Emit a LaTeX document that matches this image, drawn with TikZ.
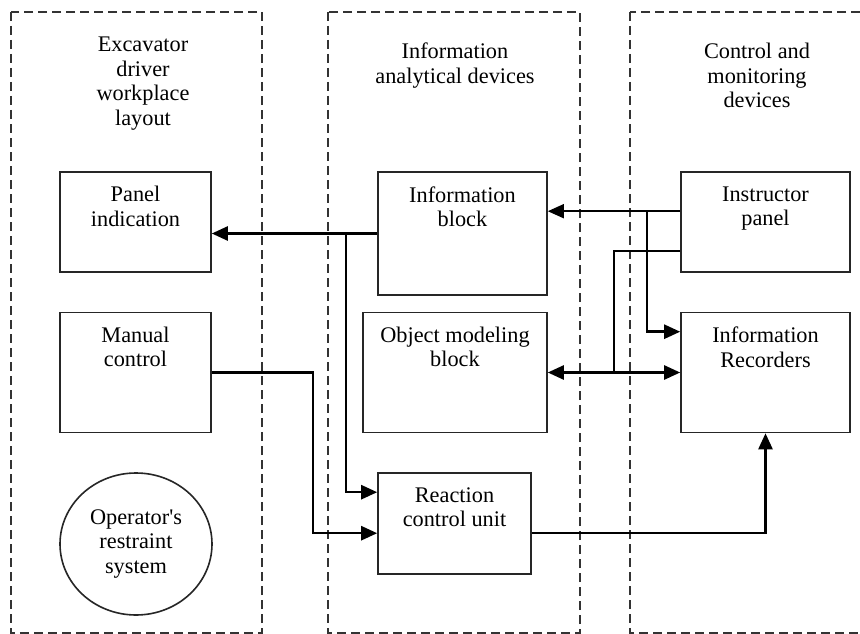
\documentclass[tikz,border=0pt]{standalone}
\usepackage{fontspec}
\setmainfont{Liberation Serif}
\usetikzlibrary{arrows.meta,shapes.geometric,calc}

\begin{document}
\begin{tikzpicture}[x=1pt,y=-1pt,
  group/.style={draw=black!80,line width=2pt,dash pattern=on 9pt off 5pt},
  blockbox/.style={draw=black!85,line width=1.6pt,rectangle,inner sep=0pt},
  caption/.style={font=\fontsize{22.3}{24.5}\selectfont,align=center,inner sep=0pt,anchor=north},
  conn/.style={line width=2.5pt,draw=black},
  thinconn/.style={line width=1.6pt,draw=black},
  tip/.style={-{Triangle[length=16pt,width=14pt]}},
  bitip/.style={{Triangle[length=16pt,width=14pt]}-{Triangle[length=16pt,width=14pt]}}]
\useasboundingbox (0,0) rectangle (860,634);
\clip (0,0) rectangle (860,634);
\fill[white] (0,0) rectangle (860,634);

% group frames
\draw[group] (11,12) rectangle (262,633);
\draw[group] (328,12) rectangle (580,633);
\draw[group] (630,12) rectangle (880,633);

% group titles
\node[caption] (t1) at (143,37) {Excavator\\driver\\workplace\\layout};
\node[caption] (t2) at (455,43) {Information\\analytical devices};
\node[caption] (t3) at (757,43) {Control and\\monitoring\\devices};

% blocks
\node[blockbox,minimum width=151pt,minimum height=100pt] (pi) at (135.5,222) {};
\node[blockbox,minimum width=151pt,minimum height=120pt] (mc) at (135.5,372.5) {};
\node[draw=black!85,line width=1.6pt,ellipse,minimum width=152pt,minimum height=142pt,inner sep=0pt,
      font=\fontsize{22.3}{24.5}\selectfont,align=center] (ors) at (136,544) {Operator\textquotesingle s\\restraint\\system};
\node[blockbox,minimum width=169pt,minimum height=123pt] (ib) at (462.5,233.5) {};
\node[blockbox,minimum width=184pt,minimum height=120pt] (ob) at (455,372.5) {};
\node[blockbox,minimum width=153pt,minimum height=101pt] (rc) at (454.5,523.5) {};
\node[blockbox,minimum width=169pt,minimum height=100pt] (ip) at (765.5,222) {};
\node[blockbox,minimum width=169pt,minimum height=120pt] (ir) at (765.5,372.5) {};

% block texts
\node[caption] (pit) at ($(pi.north)+(0,15)$) {Panel\\indication};
\node[caption] (mct) at ($(mc.north)+(0,15)$) {Manual\\control};
\node[caption] (ibt) at ($(ib.north)+(0,15)$) {Information\\block};
\node[caption] (obt) at ($(ob.north)+(0,15)$) {Object modeling\\block};
\node[caption] (rct) at ($(rc.north)+(0,15)$) {Reaction\\control unit};
\node[caption] (ipt) at ($(ip.north)+(0,15)$) {Instructor\\panel};
\node[caption] (irt) at ($(ir.north)+(0,15)$) {Information\\Recorders};

% connection points
\coordinate (rcin1) at ($(rc.north west)+(0,20)$);
\coordinate (rcin2) at ($(rc.north west)+(0,61)$);
\coordinate (ipo1) at ($(ip.north west)+(0,40)$);
\coordinate (ipo2) at ($(ip.north west)+(0,80)$);
\coordinate (irin1) at ($(ir.north west)+(0,20)$);
\coordinate (j1) at (346,233.5);
\coordinate (j2) at (647,212);
\coordinate (j3) at (614,372.5);

% connectors
\draw[conn,tip] (ib.west) -- (ib.west -| pi.east);
\draw[conn,tip] (j1) |- (rcin1);
\draw[conn,tip] (mc.east) -- ++(101,0) |- (rcin2);
\draw[conn,tip] (rc.east |- rcin2) -| (ir.south);
\draw[thinconn,tip] (ipo1) -- (ipo1 -| ib.east);
\draw[conn,tip] (j2) |- (irin1);
\draw[conn] (ipo2) -| (j3);
\draw[conn,bitip] (ob.east) -- (ir.west);
\end{tikzpicture}
\end{document}
